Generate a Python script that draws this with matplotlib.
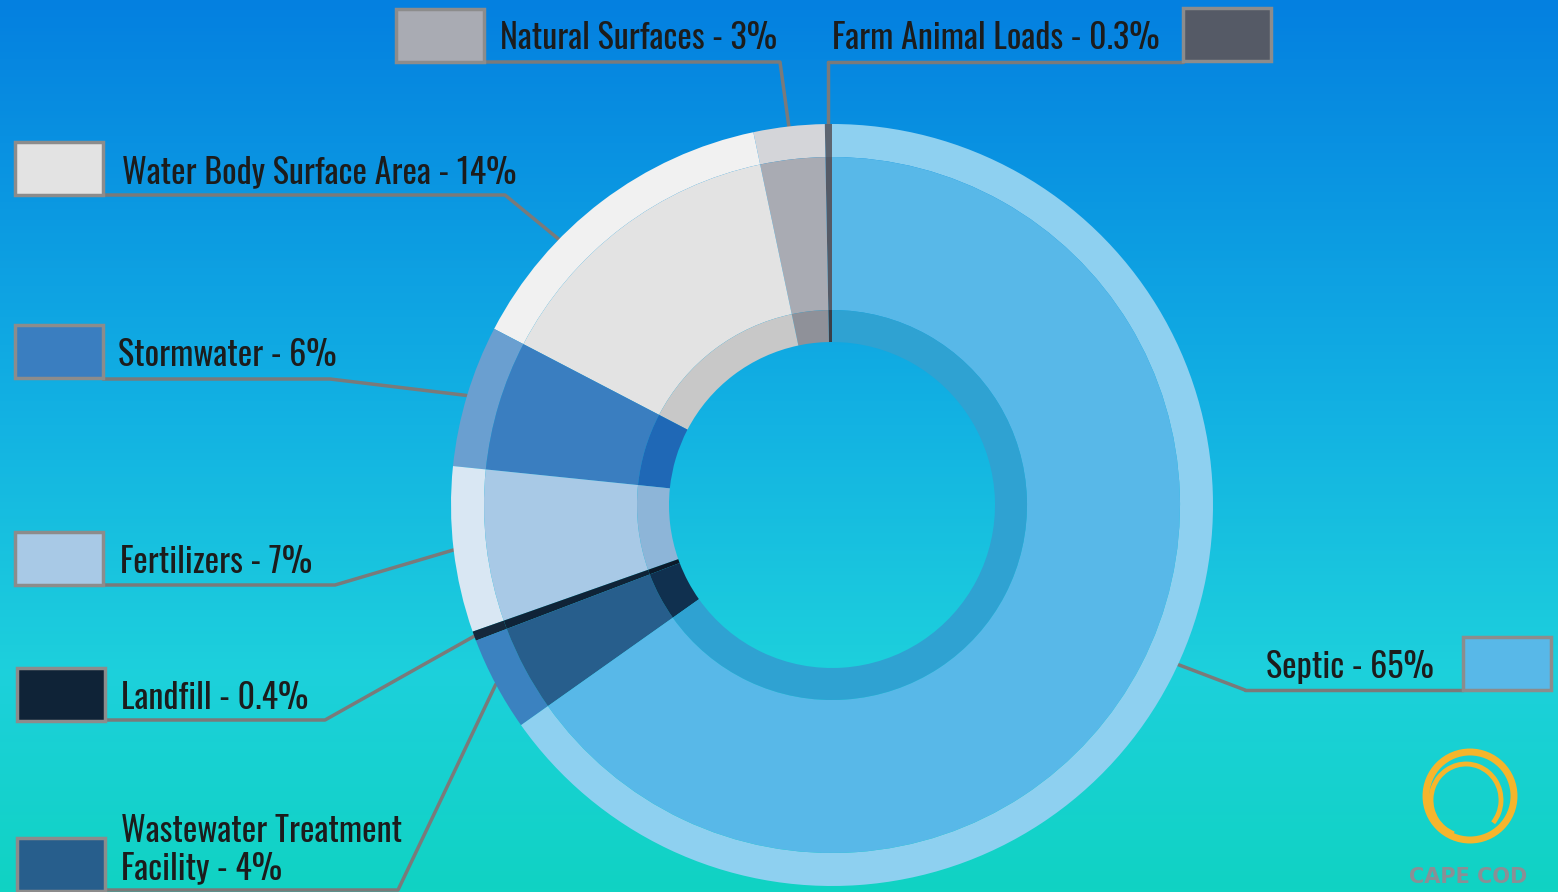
import numpy as np
import matplotlib
matplotlib.use("Agg")
import matplotlib.pyplot as plt
from matplotlib.colors import LinearSegmentedColormap
from matplotlib.patches import Rectangle, Circle, Arc

# ---------------------------------------------------------------------------
# Data (counter-clockwise from 12 o'clock)
# ---------------------------------------------------------------------------

labels = ["Farm Animal Loads - 0.3%", "Natural Surfaces - 3%", "Water Body Surface Area - 14%",
          "Stormwater - 6%", "Fertilizers - 7%", "Landfill - 0.4%",
          "Wastewater Treatment\nFacility - 4%", "Septic - 65%"]
values = [0.3, 3, 14, 6, 7, 0.4, 4, 65]

main_colors = ["#555a66", "#a9abb3", "#e3e3e3", "#3a7ec0", "#a8c9e6", "#0f2337", "#275e8c", "#58b8e8"]
rim_colors = ["#5d6571", "#d4d5d9", "#f1f1f1", "#6a9fd0", "#d9e7f3", "#15283b", "#3b82c0", "#8ed0f0"]
inner_colors = ["#3a3f48", "#8f9199", "#c8c8c8", "#1f68b6", "#8db5d8", "#0b1a2a", "#10304f", "#2fa2d2"]

# ---------------------------------------------------------------------------
# Layout (pixel coords, y measured from the top)
# ---------------------------------------------------------------------------

W, H = 1558, 892
CX, CY = 832, 505
R_OUT, R_MAIN, R_INNER, R_HOLE = 381, 348, 195, 163

# box left, box top, text x, text y, underline y, elbow x, box side
label_layout = [
    (1183, 8, 832, 38, 62, None, "right"),
    (396, 9, 500, 38, 62, 780, "left"),
    (15, 142, 122, 172, 195, 505, "left"),
    (15, 325, 118, 355, 379, 330, "left"),
    (15, 532, 120, 562, 585, 335, "left"),
    (17, 668, 121, 698, 720, 325, "left"),
    (17, 838, 121, 850, 890, 398, "left"),
    (1463, 637, 1266, 667, 690, 1245, "right"),
]
angle_shift = [0, 0, 8.6, 0, 0, 0, 0, 2.6]
BOX_W, BOX_H = 88, 53

FONT = ["Oswald", "Antonio", "Archivo Narrow", "DejaVu Sans"]


def Y(y):
    return H - y


fig = plt.figure(figsize=(W / 100, H / 100), dpi=100)
ax = fig.add_axes([0, 0, 1, 1])

# background gradient
bg = LinearSegmentedColormap.from_list(
    "bg", [(0, "#0480e0"), (0.45, "#12b0e3"), (0.75, "#1dd0dc"), (1.0, "#10d3c3")])
grad = np.linspace(0, 1, 256).reshape(-1, 1)
ax.imshow(grad, cmap=bg, extent=[0, W, 0, H], aspect="auto", origin="upper", zorder=0)

# donut: three concentric rings
ring_specs = [
    (R_OUT, R_OUT - R_MAIN, rim_colors),
    (R_MAIN, R_MAIN - R_INNER, main_colors),
    (R_INNER, R_INNER - R_HOLE, inner_colors),
]
for radius, width, cols in ring_specs:
    wedges, _ = ax.pie(values, colors=cols, startangle=90, counterclock=True,
                       center=(CX, Y(CY)), radius=radius,
                       wedgeprops=dict(width=width, linewidth=0))
    for w in wedges:
        w.set_zorder(3)

# mid angles for leader lines
total = sum(values)
starts = 90 + 360 * np.concatenate([[0], np.cumsum(values)[:-1]]) / total
mids = starts + 180 * np.array(values) / total

line_kw = dict(color="#7a7a7a", lw=2.5, solid_capstyle="round", zorder=2)

for i, lab in enumerate(labels):
    bx, by, tx, ty, uy, ex, side = label_layout[i]
    a = np.deg2rad(mids[i] + angle_shift[i])
    px = CX + R_OUT * np.cos(a)
    py = CY - R_OUT * np.sin(a)
    if ex is None:
        ex = px

    # underline + leader
    if side == "left":
        ax.plot([bx + BOX_W, ex, px], [Y(uy), Y(uy), Y(py)], **line_kw)
    else:
        ax.plot([ex, bx], [Y(uy), Y(uy)], **line_kw)
        ax.plot([ex, px], [Y(uy), Y(py)], **line_kw)

    # legend swatch
    ax.add_patch(Rectangle((bx, Y(by + BOX_H)), BOX_W, BOX_H, facecolor=main_colors[i],
                           edgecolor="#8c8c8c", lw=2.5, zorder=4))

    ax.text(tx, Y(ty), lab, family=FONT, fontsize=24.5, fontweight="medium", color="#1c1c1c",
            ha="left", va="center", linespacing=1.12, zorder=5)

# Cape Cod logo
logo_c = "#f6b52c"
ax.add_patch(Circle((1470, Y(796)), 44, fill=False, ec=logo_c, lw=5, zorder=4))
ax.add_patch(Arc((1466, Y(800)), 70, 72, theta1=-40, theta2=250, ec=logo_c, lw=3.5, zorder=4))
ax.text(1468, Y(877), "CAPE COD", family=["DejaVu Sans"], fontsize=15, fontweight="bold",
        color="#8a8f95", ha="center", va="center", zorder=4)

ax.set_xlim(0, W)
ax.set_ylim(0, H)
ax.set_aspect("auto")
ax.axis("off")

fig.savefig("out.png", dpi=100)
